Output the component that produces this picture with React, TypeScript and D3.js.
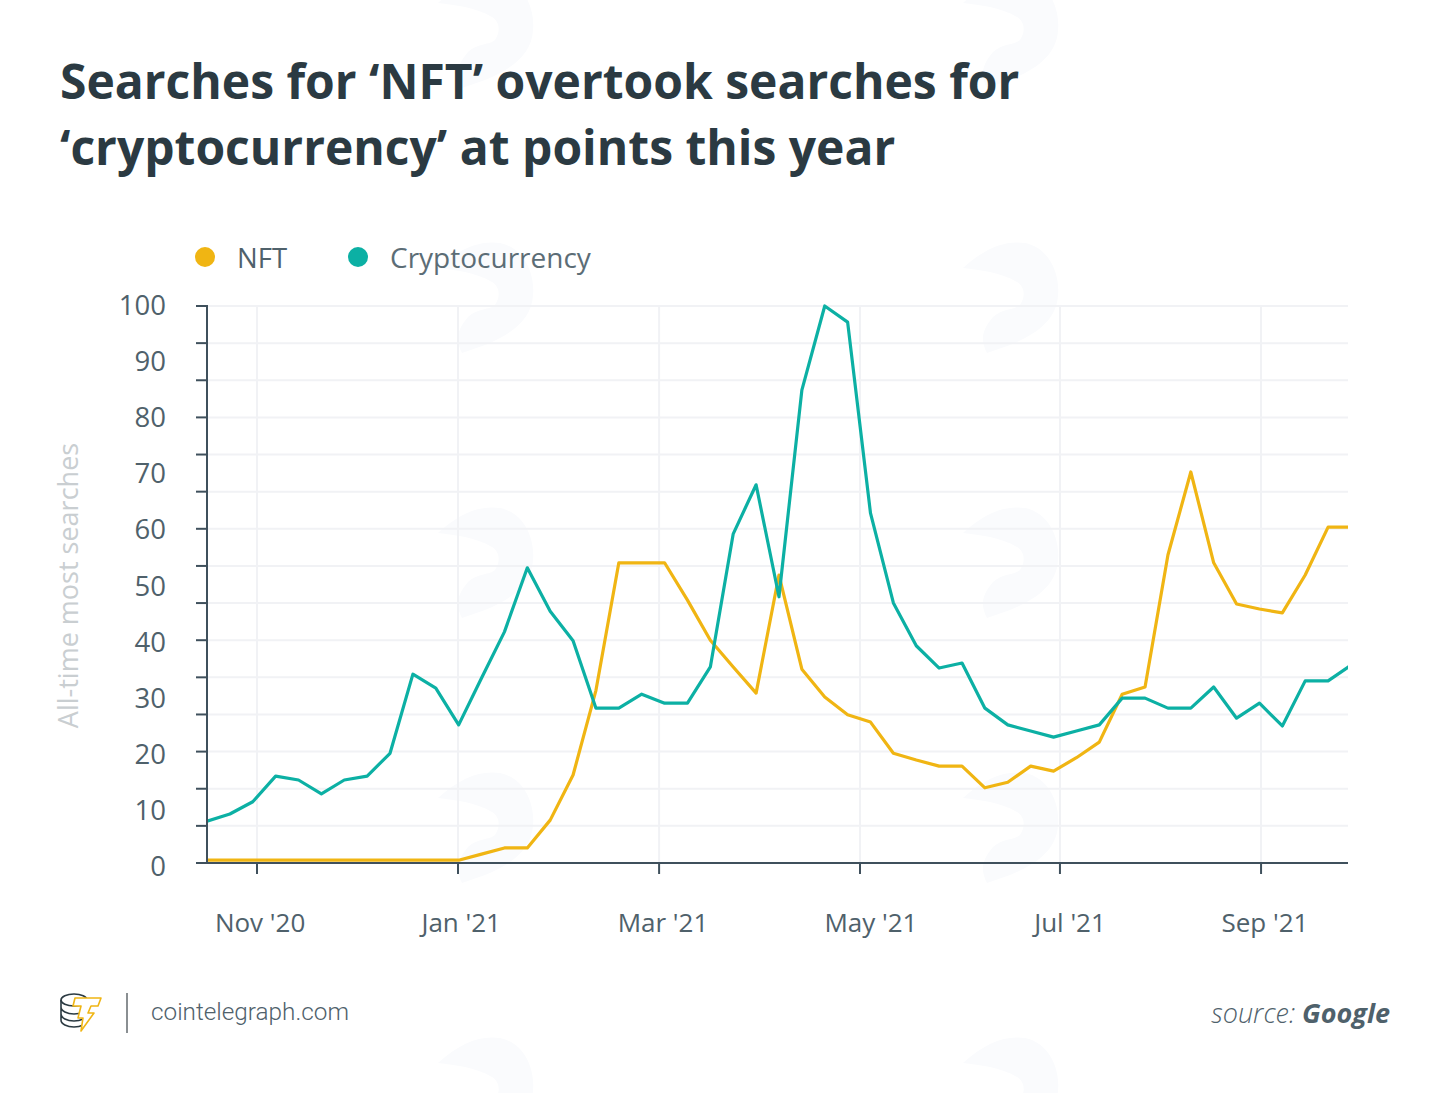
import * as d3 from 'd3';

const nft = [
  0.5, 0.5, 0.5, 0.5, 0.5, 0.5, 0.5, 0.5, 0.5, 0.5, 0.5, 0.5, 1.6, 2.7, 2.7, 7.7, 15.8, 31, 53.9, 53.9, 53.9, 47.2, 40,
  35.2, 30.5, 51.7, 34.8, 29.8, 26.6, 25.3, 19.7, 18.5, 17.4, 17.4, 13.5, 14.5, 17.4, 16.5, 18.9, 21.7, 30.3, 31.6,
  55.3, 70.2, 53.9, 46.5, 45.6, 44.9, 51.7, 60.3, 60.3,
];
const crypto = [
  7.5, 8.8, 11, 15.6, 14.9, 12.4, 14.9, 15.6, 19.7, 33.9, 31.4, 24.8, 33.2, 41.5, 53, 45.2, 39.9, 27.8, 27.8, 30.3,
  28.7, 28.7, 35.2, 59.1, 67.9, 47.8, 84.9, 100, 97.1, 62.8, 46.7, 39, 35, 35.9, 27.8, 24.8, 23.7, 22.6, 23.7, 24.8,
  29.6, 29.6, 27.8, 27.8, 31.6, 26, 28.7, 24.6, 32.7, 32.7, 35.5,
];
const monthLabels = ["Nov '20", "Jan '21", "Mar '21", "May '21", "Jul '21", "Sep '21"];
// week index each month tick falls on, and where its label is centred
const monthWeeks = [2.185, 10.97, 19.76, 28.54, 37.28, 46.07];
const monthLabelWeeks = [2.32, 11.11, 19.93, 29.02, 37.72, 46.24];
const yLabels = [0, 10, 20, 30, 40, 50, 60, 70, 80, 90, 100];
// the axis ticks are not on the labels: 15 even steps over 0-100
const yTicks = d3.range(16).map((i) => (i * 100) / 15);
// faint background watermark rows and columns
const markCols = [490, 1015];
const markRows = [25, 290, 555, 820, 1085];

const INK = '#2b3a42';
const TICK = '#4f616b';
const AXIS = '#3f505c';
const YELLOW = '#f0b513';
const TEAL = '#0cb0a4';
const FONT = '"Open Sans", sans-serif';

const width = 1450;
const height = 1093;
const margin = { top: 306, right: 102, bottom: 230, left: 207 };
const lastWeek = 49.87; // the final week runs slightly past the plot edge

export default function App() {
  const x = d3.scaleLinear().domain([0, lastWeek]).range([margin.left, width - margin.right]);
  const y = d3.scaleLinear().domain([0, 100]).range([height - margin.bottom, margin.top]);
  // labels run slightly wider than the axis in the original
  const yLabel = d3.scaleLinear().domain([0, 100]).range([876, 315]);
  const line = d3
    .line<number>()
    .x((_, i) => x(i))
    .y((d) => y(d));

  return (
    <svg
      width={width}
      height={height}
      viewBox={`0 0 ${width} ${height}`}
      style={{ position: 'absolute', left: 0, top: 0, background: '#fff', fontFamily: FONT }}
    >
      <defs>
        <clipPath id="plot">
          <rect x={x(0)} y={0} width={x(lastWeek) - x(0)} height={height} />
        </clipPath>
      </defs>

      <g fill="#fafbfd">
        {markRows.map((r) =>
          markCols.map((c) => (
            <path
              key={`${r}-${c}`}
              transform={`translate(${c},${r})`}
              d="M-52,-22C-30,-42 -10,-50 10,-47C35,-42 45,-15 43,5C42,30 20,45 -5,55L-28,63C-35,50 -33,40 -22,27C-12,18 0,20 5,15C12,5 8,-5 2,-8C-15,-18 -35,-20 -52,-22Z"
            />
          )),
        )}
      </g>

      <g fill={INK} fontSize={48} fontWeight={700}>
        <text x={60} y={99}>Searches for ‘NFT’ overtook searches for</text>
        <text x={60} y={165}>‘cryptocurrency’ at points this year</text>
      </g>

      <circle cx={205} cy={257} r={10} fill={YELLOW} />
      <text x={237} y={268} fontSize={27.5} fill={TICK}>NFT</text>
      <circle cx={358} cy={257} r={10} fill={TEAL} />
      <text x={390} y={268} fontSize={28} fill="#5c6d76">Cryptocurrency</text>

      <g stroke="#f1f2f5" strokeWidth={2}>
        {yTicks.slice(1).map((t) => (
          <line key={t} x1={x(0)} x2={x(lastWeek)} y1={y(t)} y2={y(t)} />
        ))}
        {monthWeeks.map((w) => (
          <line key={w} x1={x(w)} x2={x(w)} y1={y(100)} y2={y(0)} />
        ))}
      </g>

      <g clipPath="url(#plot)" fill="none" strokeWidth={3.2} strokeLinejoin="round">
        <path d={line(nft) ?? ''} stroke={YELLOW} />
        <path d={line(crypto) ?? ''} stroke={TEAL} />
      </g>

      <g stroke={AXIS} strokeWidth={2}>
        <line x1={x(0)} x2={x(0)} y1={y(100) - 1} y2={y(0)} />
        <line x1={x(0) - 11} x2={x(lastWeek)} y1={y(0)} y2={y(0)} />
        {yTicks.slice(1).map((t) => (
          <line key={t} x1={x(0) - 11} x2={x(0)} y1={y(t)} y2={y(t)} />
        ))}
        {monthWeeks.map((w) => (
          <line key={w} x1={x(w)} x2={x(w)} y1={y(0)} y2={y(0) + 11} />
        ))}
      </g>

      <g fill={TICK} fontSize={27.5} textAnchor="end">
        {yLabels.map((v) => (
          <text key={v} x={166} y={yLabel(v)}>{v}</text>
        ))}
      </g>
      <g fill={TICK} fontSize={26} textAnchor="middle">
        {monthLabels.map((m, i) => (
          <text key={m} x={x(monthLabelWeeks[i])} y={932}>{m}</text>
        ))}
      </g>
      <text
        transform="translate(78,585.5) rotate(-90)"
        textAnchor="middle"
        fontSize={27}
        fill="#c9ced1"
      >
        All-time most searches
      </text>

      <g fill="none" stroke={INK} strokeWidth={1.6}>
        <ellipse cx={74} cy={1000} rx={13} ry={6} />
        <path d="M61 1000v20c0 4 6 7 13 7s13-3 13-7v-20M61 1007c0 4 6 7 13 7s13-3 13-7M61 1014c0 4 6 7 13 7s13-3 13-7" />
      </g>
      <path
        d="M75 998h26l-3 8h-7l-3 7h6l-13 18 2-13h-5l3-12h-8z"
        fill="#fff"
        stroke={YELLOW}
        strokeWidth={1.6}
        strokeLinejoin="round"
      />
      <line x1={127} x2={127} y1={993} y2={1033} stroke="#8a8f92" strokeWidth={2} />
      <text x={151} y={1020} fontSize={24.3} fontFamily="Roboto, sans-serif" fontWeight={300} fill={TICK}>
        cointelegraph.com
      </text>
      <text x={1390} y={1023} textAnchor="end" fontSize={27} fontStyle="italic" fill={TICK}>
        <tspan fontWeight={300}>source: </tspan>
        <tspan fontWeight={700}>Google</tspan>
      </text>
    </svg>
  );
}
